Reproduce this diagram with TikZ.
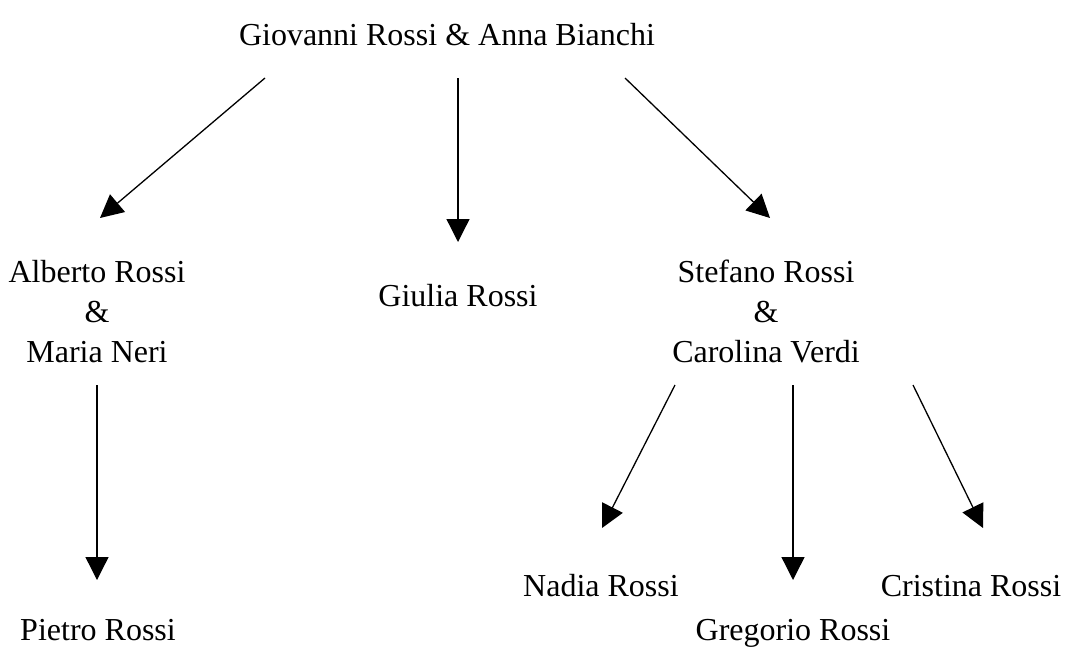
\documentclass[tikz,border=0pt]{standalone}
\usepackage{fontspec}
\setmainfont{Liberation Serif}
\usetikzlibrary{arrows.meta}
\begin{document}
\begin{tikzpicture}[x=1pt,y=-1pt,
  person/.style={anchor=base,inner sep=0pt,font=\fontsize{32}{40}\selectfont},
  link/.style={line width=1.3pt,-{Triangle[length=23pt,width=23pt]}}]
\useasboundingbox (0,0) rectangle (1067,646);
% people
\node[person] (gio) at (447,45) {Giovanni Rossi \& Anna Bianchi};
\node[person] (alb) at (97,282) {\begin{tabular}[t]{@{}c@{}}Alberto Rossi\\\&\\Maria Neri\end{tabular}};
\node[person] (giu) at (458,306) {Giulia Rossi};
\node[person] (ste) at (766,282) {\begin{tabular}[t]{@{}c@{}}Stefano Rossi\\\&\\Carolina Verdi\end{tabular}};
\node[person] (pie) at (98,640) {Pietro Rossi};
\node[person] (nad) at (601,596) {Nadia Rossi};
\node[person] (gre) at (793,640) {Gregorio Rossi};
\node[person] (cri) at (971,596) {Cristina Rossi};
% connector ends
\coordinate (gioL) at (265,78);
\coordinate (gioM) at (458,78);
\coordinate (gioR) at (625,78);
\coordinate (albT) at (100,218);
\coordinate (giuT) at (458,242);
\coordinate (steT) at (770,218);
\coordinate (albB) at (97,385);
\coordinate (pieT) at (97,580);
\coordinate (steL) at (675,385);
\coordinate (steM) at (793,385);
\coordinate (steR) at (913,385);
\coordinate (nadT) at (602,528);
\coordinate (greT) at (793,580);
\coordinate (criT) at (983,528);
% connectors
\draw[link] (gioL) -- (albT);
\draw[link] (gioM) -- (giuT);
\draw[link] (gioR) -- (steT);
\draw[link] (albB) -- (pieT);
\draw[link] (steL) -- (nadT);
\draw[link] (steM) -- (greT);
\draw[link] (steR) -- (criT);
\end{tikzpicture}
\end{document}
